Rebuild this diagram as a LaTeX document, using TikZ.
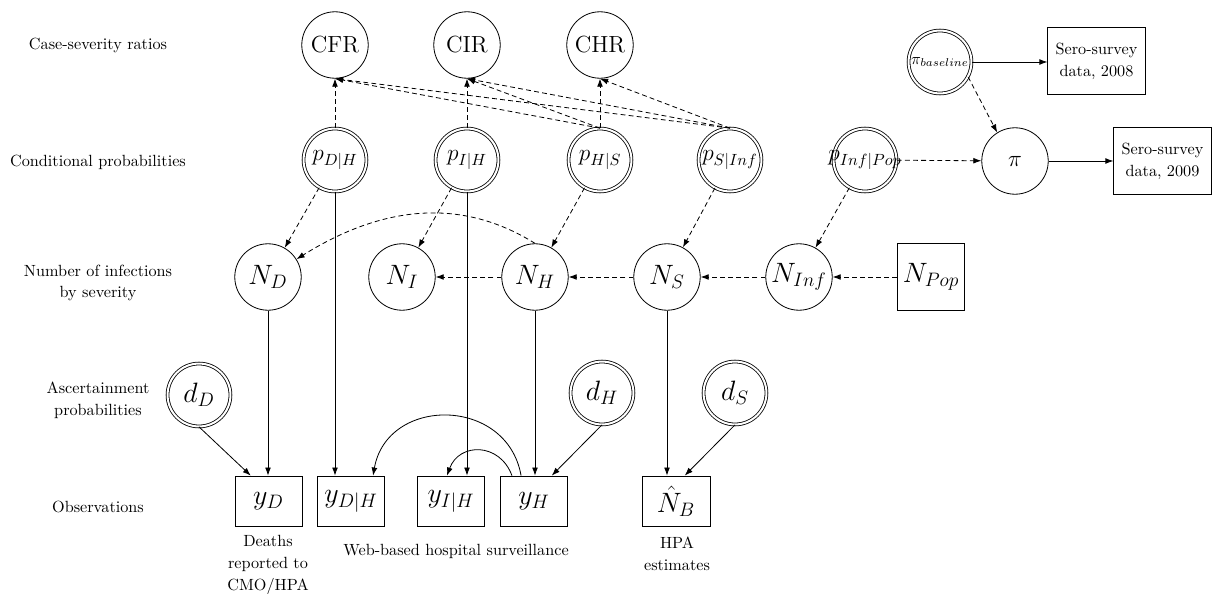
\documentclass[tikz,border=0pt]{standalone}
\usetikzlibrary{arrows.meta}
\newcommand\mkz[1]{\makebox[0pt]{#1}}
\begin{document}
\begin{tikzpicture}[x=0.617pt,y=-0.617pt,
  ratio/.style={circle,draw,line width=0.5pt,minimum size=41pt,inner sep=1pt,font=\Large},
  dcirc/.style={circle,draw,line width=0.5pt,double,double distance=1.25pt,minimum size=38.8pt,inner sep=1pt,font=\Large},
  obs/.style={rectangle,draw,line width=0.5pt,minimum width=41.3pt,minimum height=30.8pt,inner sep=1pt,font=\LARGE},
  bigm/.style={font=\LARGE},
  databox/.style={rectangle,draw,line width=0.5pt,minimum width=60pt,minimum height=41pt,align=center,font=\fontsize{10}{13.5}\selectfont},
  lbl/.style={align=center,font=\fontsize{10}{13.5}\selectfont},
  sol/.style={-{Latex[length=5pt,width=3.6pt]},line width=0.5pt},
  dsh/.style={sol,dash pattern=on 3pt off 2pt}
]
\useasboundingbox (0,0) rectangle (1212,596);

% level labels
\node[lbl] (L1) at (98,45) {Case-severity ratios};
\node[lbl] (L2) at (98,162) {Conditional probabilities};
\node[lbl] (L3) at (98,283) {Number of infections\\by severity};
\node[lbl] (L4) at (98,400) {Ascertainment\\probabilities};
\node[lbl] (L5) at (98,507) {Observations};

% row 1
\node[ratio] (CFR) at (335,45) {CFR};
\node[ratio] (CIR) at (467,45) {CIR};
\node[ratio] (CHR) at (600,45) {CHR};

% row 2
\node[dcirc] (pDH) at (335,160) {\mkz{$p_{D|H}$}};
\node[dcirc] (pIH) at (467,160) {\mkz{$p_{I|H}$}};
\node[dcirc] (pHS) at (600,160) {\mkz{$p_{H|S}$}};
\node[dcirc] (pSI) at (730,160) {\mkz{$p_{S|Inf}$}};
\node[dcirc] (pIP) at (865,160) {\mkz{$p_{Inf|Pop}$}};
\node[ratio] (pi) at (1015,161) {$\pi$};
\node[dcirc,font=\normalsize] (pib) at (940,62) {\mkz{$\pi_{baseline}$}};
\node[databox] (S08) at (1096.5,61) {Sero-survey\\data, 2008};
\node[databox] (S09) at (1162.5,161) {Sero-survey\\data, 2009};

% row 3
\node[ratio,bigm] (ND) at (268,277) {$N_D$};
\node[ratio,bigm] (NI) at (402,277) {$N_I$};
\node[ratio,bigm] (NH) at (535,277) {$N_H$};
\node[ratio,bigm] (NS) at (667,277) {$N_S$};
\node[ratio,bigm] (NInf) at (799,277) {$N_{Inf}$};
\node[obs,minimum height=41pt] (NPop) at (931,277) {$N_{Pop}$};

% row 4
\node[dcirc,bigm] (dD) at (199,395) {$d_D$};
\node[dcirc,bigm] (dH) at (602,393) {$d_H$};
\node[dcirc,bigm] (dS) at (735,393) {$d_S$};

% row 5
\node[obs] (yD) at (268.5,501) {$y_D$};
\node[obs] (yDH) at (351,501) {$y_{D|H}$};
\node[obs] (yIH) at (451,501) {$y_{I|H}$};
\node[obs] (yH) at (534,501) {$y_H$};
\node[obs,minimum width=42pt] (NB) at (676,501) {$\hat{N}_B$};

\node[lbl] (t1) at (268,565) {Deaths\\reported to\\CMO/HPA};
\node[lbl] (t2) at (456,551) {Web-based hospital surveillance};
\node[lbl] (t3) at (677,554) {HPA\\estimates};

% dashed: to ratios
\draw[dsh] (pDH) -- (CFR);
\draw[dsh] (pIH) -- (CIR);
\draw[dsh] (pHS) -- (CHR);
\draw[dsh] (pHS.north) -- (CFR.south);
\draw[dsh] (pHS.north) -- (CIR.south);
\draw[dsh] (pSI.north) -- (CFR.south);
\draw[dsh] (pSI.north) -- (CIR.south);
\draw[dsh] (pSI.north) -- (CHR.south);

% dashed: to numbers
\draw[dsh] (pDH) -- (ND);
\draw[dsh] (pIH) -- (NI);
\draw[dsh] (pHS) -- (NH);
\draw[dsh] (pSI) -- (NS);
\draw[dsh] (pIP) -- (NInf);
\draw[dsh] (NH.north) to[out=148,in=32] (ND);
\draw[dsh] (NPop) -- (NInf);
\draw[dsh] (NInf) -- (NS);
\draw[dsh] (NS) -- (NH);
\draw[dsh] (NH) -- (NI);
\draw[dsh] (pIP) -- (pi);
\draw[dsh] (pib.-28) -- (pi.122);

% solid
\draw[sol] (pib.east) -- (S08.west |- pib.east);
\draw[sol] (pi) -- (S09);
\draw[sol] (ND) -- (ND |- yD.north);
\draw[sol] (pDH) -- (pDH |- yDH.north);
\draw[sol] (pIH) -- (pIH |- yIH.north);
\draw[sol] (NH) -- (NH |- yH.north);
\draw[sol] (NS) -- (NS |- NB.north);
\draw[sol] (dD.south) -- (yD.125);
\draw[sol] (dH.south) -- (yH.55);
\draw[sol] (dS.south) -- (NB.71);
\draw[sol] (yH.117) to[out=100,in=80,looseness=1.4] (yDH.49);
\draw[sol] (yH.131) to[out=110,in=70,looseness=1.4] (yIH.99);
\end{tikzpicture}
\end{document}
